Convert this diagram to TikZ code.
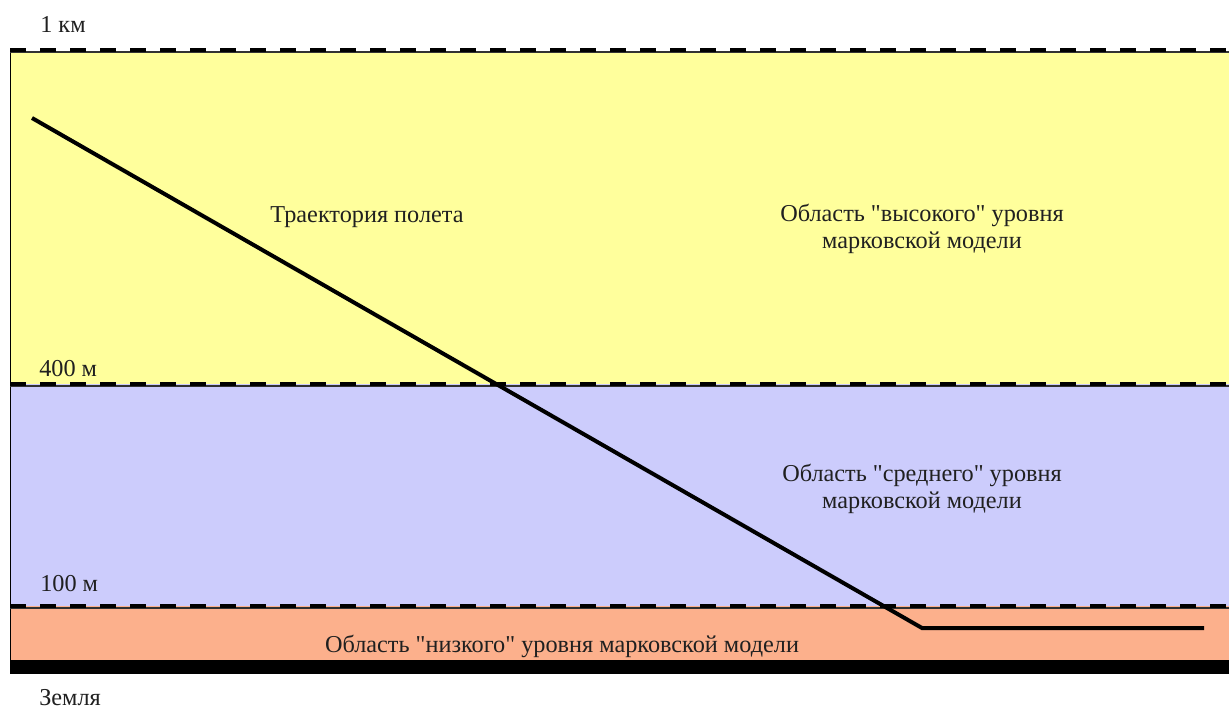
\documentclass[tikz,border=0pt]{standalone}
\usepackage{fontspec}
\setmainfont{Liberation Serif}[Ligatures=TeXOff]
\definecolor{hiY}{HTML}{FFFF9C}
\definecolor{midB}{HTML}{CCCCFC}
\definecolor{lowO}{HTML}{FCB08C}
\definecolor{txt}{HTML}{202020}
\tikzset{
  lbl/.style={anchor=base west, inner sep=0pt, text=txt, font=\fontsize{18.2}{22}\selectfont},
  ctr/.style={anchor=base, inner sep=0pt, text=txt, font=\fontsize{18.2}{22}\selectfont},
  bnd/.style={line width=3.5pt, dash pattern=on 12pt off 10.5pt, black},
  thin/.style={line width=0.8pt, black!80},
  path/.style={line width=3pt, black, line join=miter}
}
\begin{document}
\begin{tikzpicture}[x=0.75pt,y=-0.75pt]
\useasboundingbox (0,0) rectangle (1229,708);
\fill[white] (0,0) rectangle (1229,708);
% layers
\fill[hiY] (10,51) rectangle (1229,384);
\fill[midB] (10,384) rectangle (1229,606);
\fill[lowO] (10,606) rectangle (1229,660);
\fill[black] (10,660) rectangle (1229,674);
\draw[line width=1.2pt] (10.5,50) -- (10.5,674);
% boundaries
\draw[thin] (10,52) -- (1229,52);
\draw[bnd] (10,50) -- (1229,50);
\draw[thin] (10,386) -- (1229,386);
\draw[bnd] (10,384) -- (1229,384);
\draw[thin] (10,608) -- (1229,608);
\draw[bnd] (10,606) -- (1229,606);
% flight path
\coordinate (p0) at (32,118);
\coordinate (p1) at (922,628);
\coordinate (p2) at (1204,628);
\draw[path] (p0) -- (p1) -- (p2);
% labels
\node[lbl] (km) at (40,32) {1 км};
\node[lbl] (m400) at (39,376) {400 м};
\node[lbl] (m100) at (40,591) {100 м};
\node[lbl] (earth) at (39,705) {Земля};
\node[ctr] (traj) at (367,222) {Траектория полета};
\node[ctr] (hi1) at (922,221) {Область "высокого" уровня};
\node[ctr] (hi2) at (922,248) {марковской модели};
\node[ctr] (mid1) at (922,481) {Область "среднего" уровня};
\node[ctr] (mid2) at (922,508) {марковской модели};
\node[ctr] (low) at (562,652) {Область "низкого" уровня марковской модели};
\end{tikzpicture}
\end{document}
